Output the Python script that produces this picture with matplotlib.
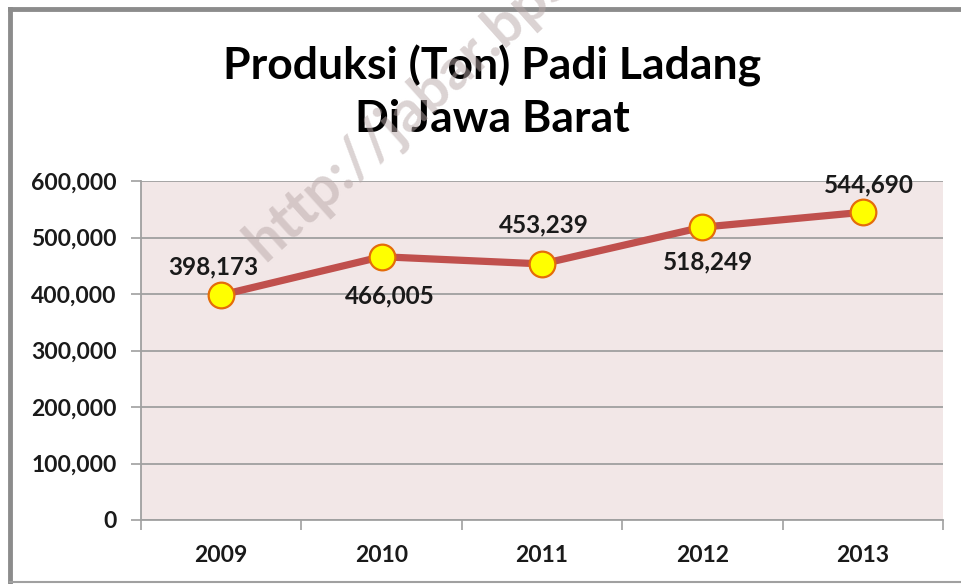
import matplotlib
matplotlib.use("Agg")
import matplotlib.pyplot as plt
from matplotlib.lines import Line2D

years = ["2009", "2010", "2011", "2012", "2013"]
produksi = [398173, 466005, 453239, 518249, 544690]
yticks = [0, 100000, 200000, 300000, 400000, 500000, 600000]
title = "Produksi (Ton) Padi Ladang\nDi Jawa Barat"
watermark = "http://jabar.bps.go.id"

plt.rcParams['font.family'] = ['Lato', 'DejaVu Sans']

W, H = 962, 584
fig = plt.figure(figsize=(W / 100, H / 100), dpi=100)
fig.patch.set_facecolor("white")

ax = fig.add_axes([141 / W, 1 - 520 / H, (943 - 141) / W, (520 - 181) / H])
ax.set_facecolor("#f2e7e7")

x = list(range(len(years)))
ax.plot(x, produksi, color="#c0504d", lw=5.2, zorder=3, solid_capstyle="round")
ax.plot(x, produksi, ls="none", marker="o", ms=18.5, mfc="#ffff00",
        mec="#e46c0a", mew=1.6, zorder=4)

# label offsets (points): (dx, dy)
offsets = [(-6, 20), (6, -28), (1, 28), (4, -25), (4, 20)]
for xi, v, (dx, dy) in zip(x, produksi, offsets):
    ax.annotate(f"{v:,}", (xi, v), xytext=(dx, dy), textcoords="offset points",
                ha="center", va="center", fontsize=17.5, fontweight="bold",
                color="#1a1a1a", zorder=5)

ax.set_xlim(-0.5, len(years) - 0.5)
ax.set_ylim(0, 600000)
ax.set_yticks(yticks)
ax.set_yticklabels([f"{t:,}" for t in yticks])
ax.yaxis.grid(True, color="#a0a0a0", lw=1.3)
ax.set_axisbelow(True)

ax.set_xticks(x)
ax.set_xticklabels(years)
ax.set_xticks([i - 0.5 for i in range(len(years) + 1)], minor=True)
ax.tick_params(axis="x", which="major", length=0, pad=18)
ax.tick_params(axis="x", which="minor", length=7, width=1.2, color="#a0a0a0",
               direction="out")
ax.tick_params(axis="y", length=7, width=1.2, color="#a0a0a0", pad=10.5)
for lab in ax.get_xticklabels() + ax.get_yticklabels():
    lab.set_fontsize(16.5)
    lab.set_fontweight("bold")
    lab.set_color("#1a1a1a")

for s in ["top", "right"]:
    ax.spines[s].set_visible(False)
for s in ["left", "bottom"]:
    ax.spines[s].set_color("#a0a0a0")
    ax.spines[s].set_linewidth(1.3)

fig.text(492 / W, 1 - 92 / H, title, ha="center", va="center", fontsize=32,
         fontweight="bold", color="#000000", linespacing=1.36)

fig.text(264 / W, 1 - 262 / H, watermark, ha="left", va="baseline",
         fontsize=42, fontweight="bold", color="#b8a8a8", alpha=0.5,
         rotation=42, rotation_mode="anchor", zorder=10)

# outer chart border
fig.add_artist(Line2D([10 / W, 10 / W], [1 - 9 / H, 1 - 582 / H], color="#8c8c8c", lw=3.5,
                      transform=fig.transFigure))
fig.add_artist(Line2D([10 / W, 1.01], [1 - 9 / H, 1 - 9 / H], color="#8c8c8c", lw=3.5,
                      transform=fig.transFigure))
fig.add_artist(Line2D([10 / W, 1.01], [1 - 582 / H, 1 - 582 / H], color="#a0a0a0", lw=1.5,
                      transform=fig.transFigure))

fig.savefig("out.png", dpi=100, facecolor="white")
